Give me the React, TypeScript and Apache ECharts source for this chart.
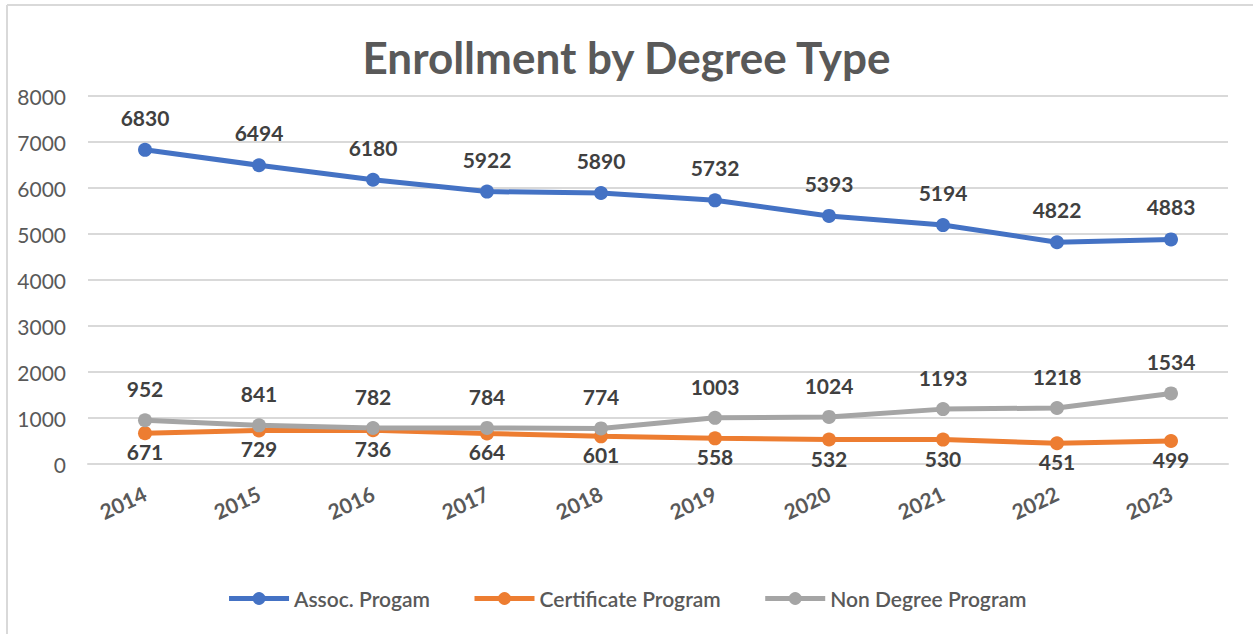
import React, { useEffect, useRef } from "react";
import * as echarts from "echarts";

const years = ["2014", "2015", "2016", "2017", "2018", "2019", "2020", "2021", "2022", "2023"];
const assoc = [6830, 6494, 6180, 5922, 5890, 5732, 5393, 5194, 4822, 4883];
const certificate = [671, 729, 736, 664, 601, 558, 532, 530, 451, 499];
const nonDegree = [952, 841, 782, 784, 774, 1003, 1024, 1193, 1218, 1534];
const yTicks = { min: 0, max: 8000, interval: 1000 };

const FONT = "Lato, 'Open Sans', sans-serif";

export default function App() {
  const ref = useRef<HTMLDivElement>(null);
  useEffect(() => {
    if (!ref.current) return;
    const chart = echarts.init(ref.current, null, { renderer: "svg" });
    const label = (pos: string, dist: number) => ({
      show: true,
      position: pos,
      distance: dist,
      fontFamily: FONT,
      fontWeight: "bold",
      fontSize: 21,
      color: "#404040",
    });
    const series = (name: string, data: number[], color: string, pos: string, dist: number) => ({
      name,
      type: "line",
      data,
      symbol: "circle",
      symbolSize: 14,
      itemStyle: { color },
      lineStyle: { color, width: 5 },
      label: label(pos, dist),
    });
    chart.setOption({
      animation: false,
      backgroundColor: "#ffffff",
      textStyle: { fontFamily: FONT },
      title: {
        text: "Enrollment by Degree Type",
        left: "center",
        top: 30,
        textStyle: { fontFamily: FONT, fontSize: 44, fontWeight: "bold", color: "#595959" },
      },
      graphic: [
        { type: "line", shape: { x1: 7, y1: 5, x2: 1253, y2: 5 }, style: { stroke: "#d9d9d9", lineWidth: 2 } },
        { type: "line", shape: { x1: 7, y1: 5, x2: 7, y2: 634 }, style: { stroke: "#d9d9d9", lineWidth: 2 } },
      ],
      legend: {
        bottom: 20,
        left: "center",
        itemWidth: 60,
        itemHeight: 16,
        itemGap: 42,
        lineStyle: { width: 5 },
        textStyle: { fontFamily: FONT, fontSize: 21, color: "#595959", fontWeight: 600 },
        data: ["Assoc. Progam", "Certificate Program", "Non Degree Program"],
      },
      grid: { left: 88, right: 25, top: 96, bottom: 170, containLabel: false },
      xAxis: {
        type: "category",
        data: years,
        boundaryGap: true,
        axisLine: { show: true, lineStyle: { color: "#d9d9d9", width: 2 } },
        axisTick: { show: false },
        axisLabel: {
          rotate: 25,
          margin: 28,
          fontFamily: FONT,
          fontSize: 21,
          fontWeight: "bold",
          color: "#595959",
        },
      },
      yAxis: {
        type: "value",
        min: yTicks.min,
        max: yTicks.max,
        interval: yTicks.interval,
        axisLine: { show: false },
        axisTick: { show: false },
        splitLine: { lineStyle: { color: "#d9d9d9", width: 2 } },
        axisLabel: {
          fontFamily: FONT,
          fontSize: 21,
          color: "#595959",
          margin: 22,
          formatter: (v: number) => String(v),
        },
      },
      series: [
        series("Assoc. Progam", assoc, "#4472c4", "top", 15),
        series("Certificate Program", certificate, "#ed7d31", "bottom", 1),
        series("Non Degree Program", nonDegree, "#a5a5a5", "top", 14),
      ],
    });
    return () => chart.dispose();
  }, []);
  return (
    <div
      ref={ref}
      style={{ position: "absolute", left: 0, top: 0, width: 1253, height: 634 }}
    />
  );
}
